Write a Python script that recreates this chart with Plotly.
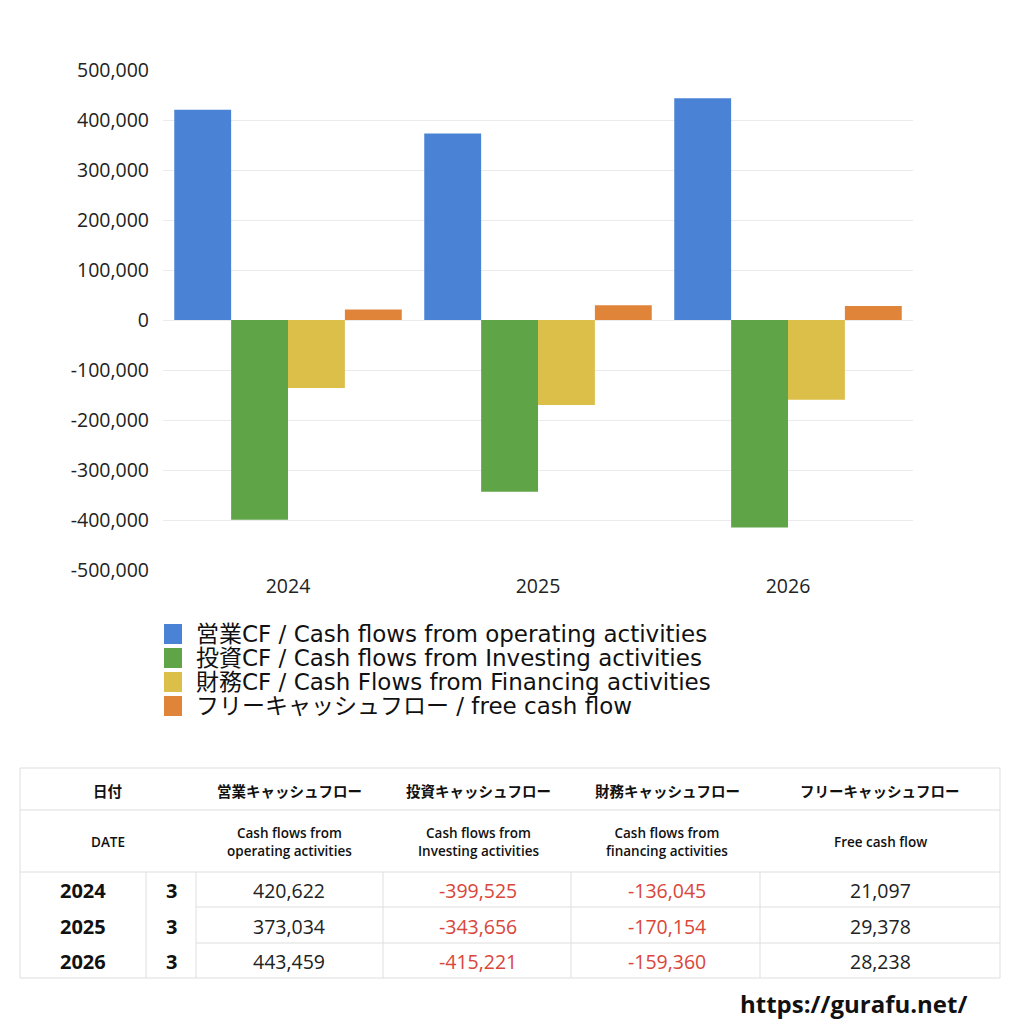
import plotly.graph_objects as go

# ---------------- data ----------------
years = ["2024", "2025", "2026"]
months = ["3", "3", "3"]
operating = [420622, 373034, 443459]
investing = [-399525, -343656, -415221]
financing = [-136045, -170154, -159360]
free_cf = [21097, 29378, 28238]

series_names = [
    "営業CF / Cash flows from operating activities",
    "投資CF / Cash flows from Investing activities",
    "財務CF / Cash Flows from Financing activities",
    "フリーキャッシュフロー / free cash flow",
]
series_values = [operating, investing, financing, free_cf]
series_colors = ["#4a83d6", "#5fa548", "#dcbf48", "#e0843a"]

header_jp = ["日付", "営業キャッシュフロー", "投資キャッシュフロー", "財務キャッシュフロー", "フリーキャッシュフロー"]
header_en = ["DATE", "Cash flows from<br>operating activities", "Cash flows from<br>Investing activities",
             "Cash flows from<br>financing activities", "Free cash flow"]
y_tick_values = [500000, 400000, 300000, 200000, 100000, 0, -100000, -200000, -300000, -400000, -500000]
site_label = "https://gurafu.net/"

FONT = "Open Sans, Noto Sans CJK JP"
FONT_JP = "Noto Sans CJK JP"
FONT_LEG = "DejaVu Sans, Noto Sans CJK JP"

# plot area in pixels
X0, X1, Y0, Y1 = 163, 913, 70, 570


def px(x):
    return (x - X0) / (X1 - X0)


def py(y):
    return (Y1 - y) / (Y1 - Y0)


def fmt(v):
    return f"{v:,}"


fig = go.Figure()
for name, vals, col in zip(series_names, series_values, series_colors):
    fig.add_trace(go.Bar(x=years, y=vals, name=name, marker=dict(color=col, line=dict(width=0)),
                         showlegend=False))

shapes = []
annotations = []

# ---------- manual legend ----------
leg_y = [634, 658, 682, 706]
for name, col, yy in zip(series_names, series_colors, leg_y):
    shapes.append(dict(type="rect", xref="paper", yref="paper",
                       x0=px(164), x1=px(182), y0=py(yy - 10), y1=py(yy + 10),
                       fillcolor=col, line=dict(width=0)))
    annotations.append(dict(text=name, xref="paper", yref="paper", x=px(194), y=py(yy),
                            xanchor="left", yanchor="middle", showarrow=False,
                            font=dict(family=FONT_LEG, size=23, color="#111111")))

# ---------- table ----------
line_col = "#dedede"
TL, TR, TT, TB = 20, 1000, 768, 978
shapes.append(dict(type="rect", xref="paper", yref="paper", x0=px(TL), x1=px(TR), y0=py(TT), y1=py(TB),
                   line=dict(color=line_col, width=1)))
for yy in [810, 872]:
    shapes.append(dict(type="line", xref="paper", yref="paper", x0=px(TL), x1=px(TR), y0=py(yy), y1=py(yy),
                       line=dict(color=line_col, width=1)))
for yy in [907, 943]:
    shapes.append(dict(type="line", xref="paper", yref="paper", x0=px(196), x1=px(TR), y0=py(yy), y1=py(yy),
                       line=dict(color=line_col, width=1)))
for xx in [146, 196, 383, 571, 760]:
    shapes.append(dict(type="line", xref="paper", yref="paper", x0=px(xx), x1=px(xx), y0=py(872), y1=py(TB),
                       line=dict(color=line_col, width=1)))

head_x = [108, 289, 478, 667, 880]
for t1, t2, xx in zip(header_jp, header_en, head_x):
    annotations.append(dict(text=f"<b>{t1}</b>", xref="paper", yref="paper", x=px(xx), y=py(790),
                            xanchor="center", yanchor="middle", showarrow=False,
                            font=dict(family=FONT_JP, size=14.5, color="#111111")))
    annotations.append(dict(text=t2, xref="paper", yref="paper", x=px(xx), y=py(842),
                            xanchor="center", yanchor="middle", showarrow=False,
                            font=dict(family=FONT, size=13.5, color="#111111", weight=600)))

row_y = [890, 926, 961]
col_x = [289, 478, 667, 880]
for i, yy in enumerate(row_y):
    annotations.append(dict(text=f"<b>{years[i]}</b>", xref="paper", yref="paper", x=px(83), y=py(yy),
                            xanchor="center", yanchor="middle", showarrow=False,
                            font=dict(family=FONT, size=20, color="#111111")))
    annotations.append(dict(text=f"<b>{months[i]}</b>", xref="paper", yref="paper", x=px(171), y=py(yy),
                            xanchor="center", yanchor="middle", showarrow=False,
                            font=dict(family=FONT, size=20, color="#111111")))
    for vals, xx in zip(series_values, col_x):
        v = vals[i]
        annotations.append(dict(text=fmt(v), xref="paper", yref="paper", x=px(xx), y=py(yy),
                                xanchor="center", yanchor="middle", showarrow=False,
                                font=dict(family=FONT, size=19.5,
                                          color="#d9463a" if v < 0 else "#222222")))

annotations.append(dict(text=f"<b>{site_label}</b>", xref="paper", yref="paper", x=px(853), y=py(1004),
                        xanchor="center", yanchor="middle", showarrow=False,
                        font=dict(family=FONT, size=24, color="#111111")))

fig.update_layout(
    width=1024, height=1024,
    margin=dict(l=X0, r=1024 - X1, t=Y0, b=1024 - Y1, autoexpand=False),
    paper_bgcolor="white", plot_bgcolor="white",
    barmode="group", bargap=0.09, bargroupgap=0,
    font=dict(family=FONT, color="#222222"),
    shapes=shapes, annotations=annotations,
    showlegend=False,
)
fig.update_yaxes(range=[-500000, 500000], tickvals=y_tick_values,
                 ticktext=[fmt(v) for v in y_tick_values],
                 showgrid=True, gridcolor="#ebebeb", gridwidth=1,
                 zeroline=True, zerolinecolor="#ebebeb", zerolinewidth=1,
                 tickfont=dict(family=FONT, size=19.5, color="#222222"), ticks="",
                 ticklabelstandoff=13, showline=False)
fig.update_xaxes(tickfont=dict(family=FONT, size=19.5, color="#222222"), ticks="", showline=False,
                 showgrid=False, ticklabelstandoff=2)

fig.write_html("out.html")
